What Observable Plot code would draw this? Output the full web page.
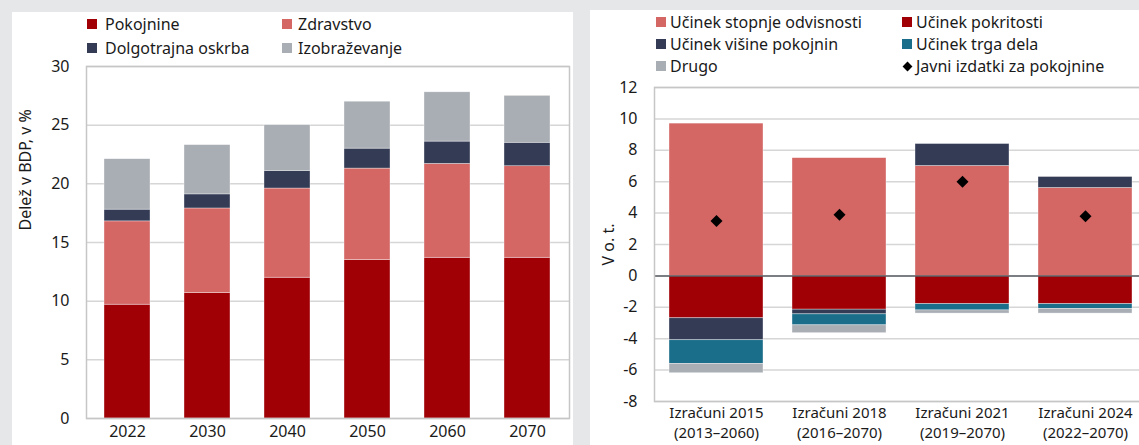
<!DOCTYPE html>
<html>
<head>
<meta charset="utf-8">
<script src="https://cdn.jsdelivr.net/npm/d3@7"></script>
<script src="https://cdn.jsdelivr.net/npm/@observablehq/plot@0.6"></script>
<style>
  html, body { margin: 0; padding: 0; }
  body { width: 1139px; height: 445px; background: #e6e7e8; position: relative; overflow: hidden;
         font-family: "Noto Sans", sans-serif; color: #1a1a1a; }
  .panel { position: absolute; background: #fff; }
  .abs { position: absolute; }
  .leg { position: absolute; font-size: 16px; line-height: 20px; white-space: nowrap; }
  .sw { position: absolute; width: 10px; height: 10px; }
  svg { overflow: visible; max-width: none !important; }
</style>
</head>
<body>
<div class="panel" style="left:12px;top:12px;width:561px;height:433px;"></div>
<div class="panel" style="left:590px;top:10px;width:549px;height:435px;"></div>
<div id="left" class="abs" style="left:0;top:50px;width:573px;height:395px;"></div>
<div id="right" class="abs" style="left:590px;top:70px;width:560px;height:380px;"></div>
<div id="legL"></div>
<div id="legR"></div>
<script>
// ---------- Left chart data ----------
const years = ["2022", "2030", "2040", "2050", "2060", "2070"];
const pokojnine = [9.7, 10.7, 12.0, 13.5, 13.7, 13.7];
const zdravstvo = [7.1, 7.2, 7.6, 7.8, 8.0, 7.8];
const dolgotrajnaOskrba = [1.0, 1.2, 1.5, 1.7, 1.9, 2.0];
const izobrazevanje = [4.3, 4.2, 3.9, 4.0, 4.2, 4.0];
const leftSeries = ["Pokojnine", "Zdravstvo", "Dolgotrajna oskrba", "Izobraževanje"];
const leftColors = ["#a00005", "#d46664", "#333b55", "#a9aeb4"];
const leftTicks = [0, 5, 10, 15, 20, 25, 30];
const leftYLabel = "Delež v BDP, v %";

// ---------- Right chart data ----------
const izracuni = ["Izračuni 2015\n(2013–2060)", "Izračuni 2018\n(2016–2070)", "Izračuni 2021\n(2019–2070)", "Izračuni 2024\n(2022–2070)"];
const ucinekStopnjeOdvisnosti = [9.7, 7.5, 7.0, 5.6];
const ucinekPokritosti = [-2.7, -2.15, -1.8, -1.8];
const ucinekVisinePokojnin = [-1.4, -0.3, 1.4, 0.7];
const ucinekTrgaDela = [-1.5, -0.7, -0.4, -0.3];
const drugo = [-0.6, -0.5, -0.2, -0.3];
const javniIzdatki = [3.5, 3.9, 6.0, 3.8];
const rightSeries = ["Učinek stopnje odvisnosti", "Učinek pokritosti", "Učinek višine pokojnin", "Učinek trga dela", "Drugo"];
const rightColors = ["#d46664", "#a00005", "#333b55", "#1a6e8a", "#a9aeb4"];
const rightTicks = [-8, -6, -4, -2, 0, 2, 4, 6, 8, 10, 12];

const font = "Noto Sans";

// ---------- Left chart ----------
const leftVals = [pokojnine, zdravstvo, dolgotrajnaOskrba, izobrazevanje];
const leftData = [];
leftSeries.forEach((s, i) => years.forEach((y, j) => leftData.push({year: y, series: s, value: leftVals[i][j]})));

const left = Plot.plot({
  width: 573, height: 395,
  marginLeft: 86, marginRight: 4, marginTop: 16, marginBottom: 27,
  style: {background: "transparent", fontFamily: font, fontSize: "16px", color: "#1a1a1a"},
  x: {domain: years, paddingInner: 0.422, paddingOuter: 0.205, label: null},
  y: {domain: [0, 30], label: null},
  color: {domain: leftSeries, range: leftColors},
  marks: [
    Plot.gridY(leftTicks, {stroke: "#d6d6d6", strokeOpacity: 1, strokeWidth: 1.5}),
    Plot.barY(leftData, Plot.stackY({x: "year", y: "value", fill: "series", stroke: "#fff", strokeWidth: 0.6, strokeOpacity: 0.6})),
    Plot.frame({stroke: "#c6c6c6", strokeWidth: 1.5}),
    Plot.axisY(leftTicks, {tickSize: 0, tickPadding: 17, fontSize: 16, label: null}),
    Plot.text([leftYLabel], {text: d => d, frameAnchor: "left", rotate: -90, dx: -61, dy: -12, fontSize: 16, fill: "#1a1a1a"}),
    Plot.axisX({tickSize: 0, tickPadding: 7, fontSize: 16, label: null})
  ]
});
document.getElementById("left").appendChild(left);

// ---------- Right chart ----------
const rightVals = [ucinekStopnjeOdvisnosti, ucinekPokritosti, ucinekVisinePokojnin, ucinekTrgaDela, drugo];
const rightData = [];
rightSeries.forEach((s, i) => izracuni.forEach((c, j) => rightData.push({cat: c, series: s, value: rightVals[i][j]})));
const dotData = izracuni.map((c, j) => ({cat: c, value: javniIzdatki[j]}));

const right = Plot.plot({
  width: 556, height: 380,
  marginLeft: 64, marginRight: 0, marginTop: 17, marginBottom: 49,
  style: {background: "transparent", fontFamily: font, fontSize: "16px", color: "#1a1a1a"},
  x: {domain: izracuni, paddingInner: 0.236, paddingOuter: 0.114, label: null},
  y: {domain: [-8, 12], label: null},
  color: {domain: rightSeries, range: rightColors},
  marks: [
    Plot.gridY(rightTicks, {stroke: "#d6d6d6", strokeOpacity: 1, strokeWidth: 1.5}),
    Plot.barY(rightData, Plot.stackY({x: "cat", y: "value", fill: "series", stroke: "#fff", strokeWidth: 0.6, strokeOpacity: 0.6})),
    Plot.ruleY([0], {stroke: "#5a5e63", strokeWidth: 1.5}),
    Plot.dot(dotData, {x: "cat", y: "value", symbol: "diamond2", r: 5.4, fill: "#000", stroke: "none"}),
    Plot.frame({stroke: "#c6c6c6", strokeWidth: 1.5}),
    Plot.axisY(rightTicks, {tickSize: 0, tickPadding: 17, fontSize: 16, tickFormat: d => String(d), label: "V o. t.", labelAnchor: "center", labelArrow: "none", labelOffset: 52}),
    Plot.axisX({tickSize: 0, tickPadding: 3, fontSize: 15, lineHeight: 1.3, label: null})
  ]
});
document.getElementById("right").appendChild(right);

// ---------- Legends (HTML) ----------
function legendItem(container, x, y, color, label, textX, diamond) {
  const sw = document.createElement("div");
  if (diamond) {
    sw.className = "sw";
    sw.style.cssText = `left:${x + 1.5}px;top:${y - 3.5}px;width:7px;height:7px;background:#000;transform:rotate(45deg);`;
  } else {
    sw.className = "sw";
    sw.style.left = x + "px"; sw.style.top = (y - 5) + "px"; sw.style.background = color;
  }
  container.appendChild(sw);
  const t = document.createElement("div");
  t.className = "leg";
  t.style.left = textX + "px"; t.style.top = (y - 10) + "px";
  t.textContent = label;
  container.appendChild(t);
}
const legL = document.getElementById("legL");
legendItem(legL, 87, 24, leftColors[0], leftSeries[0], 105);
legendItem(legL, 282, 24, leftColors[1], leftSeries[1], 298);
legendItem(legL, 87, 48, leftColors[2], leftSeries[2], 105);
legendItem(legL, 282, 48, leftColors[3], leftSeries[3], 298);

const legR = document.getElementById("legR");
legendItem(legR, 656, 22, rightColors[0], rightSeries[0], 670);
legendItem(legR, 902, 22, rightColors[1], rightSeries[1], 916);
legendItem(legR, 656, 44, rightColors[2], rightSeries[2], 670);
legendItem(legR, 902, 44, rightColors[3], rightSeries[3], 916);
legendItem(legR, 656, 66, rightColors[4], rightSeries[4], 670);
legendItem(legR, 902, 66, "#000", "Javni izdatki za pokojnine", 916, true);
</script>
</body>
</html>
